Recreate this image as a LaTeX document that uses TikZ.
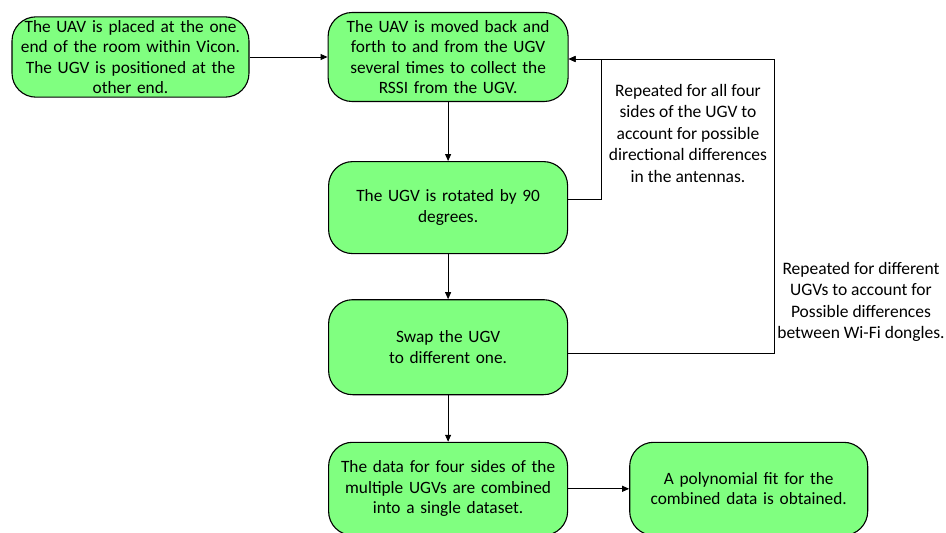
\documentclass[tikz,border=0pt]{standalone}
\usepackage{fontspec}
\setmainfont{Carlito}
\usepackage{tikz}
\usetikzlibrary{arrows.meta,positioning,calc}
\definecolor{boxgreen}{RGB}{128,255,128}

\begin{document}
\begin{tikzpicture}[
  x=1pt,y=1pt,
  node distance=45pt and 78pt,
  stepbox/.style={rectangle,draw,fill=boxgreen,line width=1.1pt,minimum width=239pt,
                  minimum height=92pt,rounded corners=24pt,align=center,text width=232pt,
                  inner xsep=2pt,font=\fontsize{17.3}{20.5}\selectfont},
  note/.style={align=center,font=\fontsize{17.5}{21.5}\selectfont},
  arr/.style={-{Triangle[length=7pt,width=6pt]},line width=0.9pt}
]
  \useasboundingbox (0,0) rectangle (946,-533);
  \node[stepbox,minimum width=237pt,minimum height=80pt] (place) at (130.5,-57)
    {The UAV is placed at the one\\end of the room within Vicon.\\The UGV is positioned at the\\other end.};
  \node[stepbox,minimum width=240pt,minimum height=89pt,right=78pt of place] (move)
    {The UAV is moved back and\\forth to and from the UGV\\several times to collect the\\RSSI from the UGV.};
  \node[stepbox,below=59pt of move] (rot) {The UGV is rotated by 90\\degrees.};
  \node[stepbox,minimum height=95pt,below=45pt of rot] (swap) {Swap the UGV\\to different one.};
  \node[stepbox,minimum height=93pt,below=46.5pt of swap] (comb)
    {The data for four sides of the\\multiple UGVs are combined\\into a single dataset.};
  \node[stepbox,minimum width=238pt,minimum height=93pt,right=61pt of comb] (fit)
    {A polynomial fit for the\\combined data is obtained.};

  \node[note] (noteA) at (688,-133)
    {Repeated for all four\\sides of the UGV to\\account for possible\\directional differences\\in the antennas.};
  \node[note] (noteB) at (861,-302)
    {Repeated for different\\UGVs to account for\\Possible differences\\between Wi-Fi dongles.};

  \draw[arr] (place) -- (move);
  \draw[arr] (move) -- (rot);
  \draw[arr] (rot) -- (swap);
  \draw[arr] (swap) -- (comb);
  \draw[arr] (comb) -- (fit);
  \draw[arr] ([yshift=8pt]rot.east) -- ++(33,0) |- ([yshift=-2pt]move.east);
  \draw[arr] ([yshift=-6pt]swap.east) -- ++(206,0) |- ([yshift=-2pt]move.east);
\end{tikzpicture}
\end{document}
